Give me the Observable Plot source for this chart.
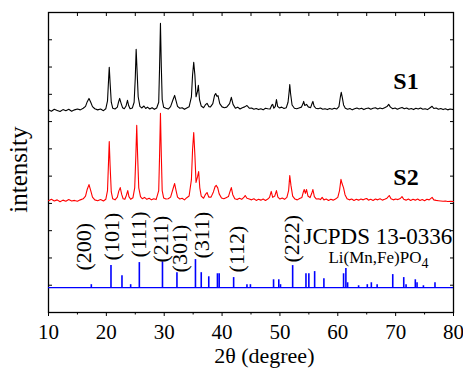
<!DOCTYPE html>
<html>
<head>
<meta charset="utf-8">
<script src="https://cdn.jsdelivr.net/npm/d3@7"></script>
<script src="https://cdn.jsdelivr.net/npm/@observablehq/plot@0.6"></script>
<style>
  html, body { margin: 0; padding: 0; background: #fff; overflow: hidden; }
  #chart svg { display: block; }
</style>
</head>
<body>
<div id="chart"></div>
<script>
// ---- data (2θ in degrees, intensity height above each trace's baseline, arbitrary units) ----
const s1Trace = [
  [10.0,0.2],[10.5,-0.3],[11.0,0.4],[11.5,0],[12.0,-0.4],[12.5,0.3],[13.0,-0.1],[13.5,0.4],[14.0,-0.3],[14.5,0.2],[15.0,0.5],[15.5,0.2],[16.0,0.8],
  [16.4,1.5],[16.7,3.2],[17.0,4.4],[17.3,3.0],[17.6,1.4],[18.0,0.6],[18.5,0.2],[19.0,0.5],[19.5,-0.1],[19.9,0.6],
  [20.2,3.5],[20.4,12],[20.5,15.8],[20.65,10],[20.85,3],[21.1,0.8],[21.5,0.5],[21.9,1.2],
  [22.1,3],[22.3,4.4],[22.55,2.6],[22.8,1.0],[23.1,0.6],[23.4,1.6],[23.65,3.7],[23.85,1.8],[24.1,0.6],[24.5,0.9],
  [24.8,3],[25.0,12],[25.15,22.4],[25.3,15],[25.5,5],[25.8,1.5],[26.1,0.9],[26.5,1.6],[26.8,0.7],[27.1,1.2],[27.5,0.5],[27.9,1.0],[28.3,0.4],[28.7,0.9],
  [29.05,3],[29.2,16],[29.35,31.9],[29.5,16],[29.65,4],[29.9,1.2],[30.3,0.8],[30.7,0.5],[31.1,1.4],[31.5,3.8],[31.8,5.5],[32.05,3.5],[32.3,1.5],[32.7,0.8],[33.1,1.0],[33.5,0.4],[33.9,0.9],[34.3,1.3],
  [34.7,5],[34.9,13],[35.1,17.6],[35.3,13],[35.5,5],[35.75,7],[35.9,9.2],[36.1,4],[36.4,1.6],[36.8,1.0],[37.1,2.0],[37.4,2.6],[37.7,1.4],[38.0,1.3],[38.4,2.5],[38.7,5.5],[38.9,6.2],[39.1,5.2],[39.3,5.4],[39.6,2.5],[40.0,1.3],[40.4,1.0],[40.8,1.2],
  [41.3,2.5],[41.6,4.8],[41.9,2.2],[42.3,0.8],[42.7,1.2],[43.1,0.5],[43.5,1.0],[43.9,1.3],[44.3,1.8],[44.7,0.8],[45.1,0.9],[45.5,0.4],[45.9,0.7],[46.3,0.3],[46.7,0.6],[47.1,0.2],[47.5,0.8],[47.9,0.6],[48.3,0.5],
  [48.6,2.0],[48.75,2.2],[48.95,0.8],[49.2,1.5],[49.4,4.0],[49.6,1.5],[49.9,0.9],[50.3,1.2],[50.7,0.7],[51.1,1.0],[51.4,3],
  [51.6,7],[51.7,9.5],[51.85,6],[52.1,2],[52.5,0.8],[52.9,0.6],[53.3,0.9],[53.7,1.2],[54.0,2.5],[54.1,3.3],[54.3,1.8],[54.6,2.2],[54.9,1.3],[55.3,1.0],[55.6,2.8],[55.7,3.3],[55.9,1.6],[56.2,0.8],[56.6,0.6],[57.0,0.9],[57.4,0.4],[57.8,0.6],[58.2,0.3],[58.6,0.7],[59.0,0.4],[59.4,0.8],[59.8,0.5],[60.2,1.4],
  [60.45,5],[60.6,6.6],[60.8,4.5],[61.0,2.0],[61.3,0.8],[61.7,0.4],[62.1,0.7],[62.5,0.2],[62.9,0.6],[63.3,0.9],[63.7,0.5],[64.1,0.8],[64.5,0.3],[64.9,0.7],[65.3,0.9],[65.7,0.4],[66.1,0.8],[66.5,1.0],[66.9,0.5],[67.3,0.9],[67.7,0.6],[68.1,1.0],[68.5,1.4],[68.8,2.2],[69.1,1.2],[69.5,0.6],[69.9,0.9],[70.3,0.4],[70.7,0.8],[71.1,1.1],[71.5,0.6],[71.9,0.9],[72.3,0.4],[72.7,0.7],[73.1,0.3],[73.5,0.8],[73.9,0.5],[74.3,0.9],[74.7,0.4],[75.1,0.6],[75.5,0.3],[75.9,0.9],[76.3,1.5],[76.6,0.7],[77.0,0.9],[77.4,0.4],[77.8,0.7],[78.2,0.3],[78.6,0.6],[79.0,0.2],[79.4,0.5],[80.0,0.3]
];

const s2Trace = [
  [10.0,0.3],[10.5,0.8],[11.0,0.2],[11.5,0.6],[12.0,-0.1],[12.5,0.5],[13.0,0.1],[13.5,0.7],[14.0,0.2],[14.5,0.4],[15.0,0.1],[15.5,0.6],[16.0,1.0],
  [16.4,2.0],[16.7,4.5],[17.0,6.2],[17.3,4.0],[17.6,1.6],[18.0,0.6],[18.5,0.3],[19.0,0.7],[19.5,0.2],[19.9,0.8],
  [20.2,4],[20.4,16],[20.5,22],[20.65,13],[20.85,3.5],[21.1,1.0],[21.5,0.6],[21.9,1.6],[22.15,3.8],[22.4,5.1],[22.65,2.6],[22.9,1.0],[23.2,0.8],[23.45,2.2],[23.7,4.0],[23.9,1.8],[24.2,0.8],[24.6,1.4],
  [24.9,5],[25.1,17],[25.25,27.9],[25.4,17],[25.6,5],[25.9,1.8],[26.2,1.0],[26.6,1.5],[27.0,0.8],[27.4,1.2],[27.8,0.6],[28.2,1.0],[28.6,0.7],
  [29.05,4],[29.2,17],[29.35,32.3],[29.5,17],[29.65,4],[29.9,1.3],[30.3,0.9],[30.7,1.0],[31.1,1.6],[31.5,4.5],[31.8,6.6],[32.05,4.0],[32.3,1.6],[32.7,0.9],[33.1,1.2],[33.5,0.6],[33.9,1.4],[34.3,2.0],
  [34.7,8],[34.9,19],[35.1,25.3],[35.3,17],[35.5,7],[35.75,9],[35.95,11],[36.15,5],[36.4,2.0],[36.8,1.2],[37.1,2.5],[37.4,3.3],[37.7,1.6],[38.1,1.6],[38.5,3.5],[38.8,5.5],[39.0,5.9],[39.25,5.0],[39.5,2.8],[39.9,1.3],[40.3,1.0],[40.7,1.4],[41.1,1.8],
  [41.35,3.5],[41.6,5.1],[41.85,2.5],[42.2,1.0],[42.6,0.7],[43.0,1.2],[43.4,0.8],[43.8,1.6],[44.0,2.2],[44.3,1.2],[44.7,0.9],[45.1,0.6],[45.5,1.0],[45.9,0.4],[46.3,0.8],[46.7,0.5],[47.1,0.9],[47.5,0.4],[47.9,0.9],[48.2,1.5],
  [48.5,3.7],[48.75,1.5],[49.1,2.0],[49.4,4.0],[49.65,1.6],[50.0,0.9],[50.4,1.3],[50.8,0.8],[51.2,1.5],[51.5,4],
  [51.7,9.5],[51.9,6],[52.2,2],[52.6,0.9],[53.0,0.6],[53.4,1.1],[53.8,1.5],[54.05,3.5],[54.2,4.4],[54.4,3.0],[54.6,4.4],[54.85,2.0],[55.2,1.4],[55.5,3.0],[55.7,4.4],[55.95,1.8],[56.3,0.9],[56.7,1.0],[57.0,0.7],[57.3,1.5],[57.6,0.6],[58.0,0.9],[58.4,0.4],[58.8,0.8],[59.2,0.5],[59.6,0.9],[60.0,1.5],[60.3,4],
  [60.55,8.1],[60.75,6.5],[61.0,5.0],[61.25,2.5],[61.6,1.0],[62.0,0.6],[62.4,0.9],[62.8,0.4],[63.2,0.8],[63.6,0.5],[64.0,0.9],[64.4,0.6],[64.8,1.0],[65.0,1.1],[65.3,0.5],[65.7,0.8],[66.1,0.4],[66.5,0.9],[66.9,0.6],[67.3,1.0],[67.7,0.5],[68.1,0.8],[68.5,1.2],[68.9,2.2],[69.2,1.0],[69.6,0.6],[70.0,0.9],[70.4,0.7],[70.8,1.1],[71.1,1.8],[71.4,0.8],[71.8,0.5],[72.2,0.9],[72.6,0.4],[73.0,0.8],[73.4,0.5],[73.8,0.9],[74.2,0.4],[74.6,0.7],[75.0,0.3],[75.4,0.8],[75.8,0.6],[76.3,1.5],[76.6,0.6],[77.0,0.4],[77.4,0.3],[77.8,0.2],[78.2,0.1],[78.6,0.2],[79.0,0],[79.5,0.1],[80.0,0]
];

// JCPDS 13-0336 reference sticks: [2θ, relative height]
const refSticks = [
  [17.4,1.1],[20.8,8.1],[22.7,4.4],[24.2,1.1],[25.7,9.2],[29.7,9.5],[32.2,5.5],[35.4,10.3],[36.4,5.5],[37.7,4.0],
  [39.2,5.1],[39.5,5.1],[42.0,3.7],[44.3,1.1],[44.9,1.1],[48.9,2.9],[49.8,2.9],[50.1,1.1],[52.2,8.1],[54.5,5.1],
  [55.0,5.1],[56.0,5.9],[57.6,3.3],[61.0,5.1],[61.4,7.0],[61.7,1.8],[63.6,0.7],[65.1,1.1],[65.8,1.8],[66.8,1.1],
  [69.5,4.8],[71.4,3.7],[71.8,1.1],[73.4,2.9],[73.7,1.8],[74.8,0.7],[76.8,1.8]
];

// baselines of the stacked traces (y-axis units)
const s1Offset = 74.1;
const s2Offset = 40.7;
const refOffset = 9.1;

// Miller index labels
const hklLabels = ["(200)","(101)","(111)","(211)","(301)","(311)","(112)","(222)"];
const hklTheta  = [16.05, 21.05, 25.55, 29.5, 32.8, 36.45, 42.65, 52.0];
const hklStart  = [15.4, 19.1, 20.2, 18.3, 14.7, 19.8, 14.7, 18.3];

const xMajorTicks = [10,20,30,40,50,60,70,80];
const xMinorTicks = [15,25,35,45,55,65,75];
const xTopTicks = [10,15,20,25,30,35,40,45,50,55,60,65,70,75,80];
const yTicks = [10,20,30,40,50,60,70,80,90,100];

const sampleLabels = [{t:"S1", x:69.6, y:84.6}, {t:"S2", x:69.6, y:49.4}];

const serif = "Liberation Serif";

const hklData = hklLabels.map((t, i) => ({t, x: hklTheta[i], y: hklStart[i]}));

const chart = Plot.plot({
  width: 463,
  height: 371,
  marginLeft: 48,
  marginRight: 10,
  marginTop: 12,
  marginBottom: 59,
  style: {fontFamily: serif, fontSize: "21px", color: "black", background: "white"},
  x: {domain: [10, 80]},
  y: {domain: [0, 110]},
  marks: [
    Plot.frame({stroke: "black", strokeWidth: 1.3}),
    Plot.axisX({anchor: "bottom", ticks: xMajorTicks, tickSize: 4, tickPadding: 8, tickFormat: d => String(d), label: null}),
    Plot.axisX({anchor: "bottom", ticks: xMinorTicks, tickSize: 2.5, tickFormat: () => "", label: null}),
    Plot.axisX({anchor: "top", ticks: xTopTicks, tickSize: -3, tickFormat: () => "", label: null}),
    Plot.axisY({anchor: "left", ticks: yTicks, tickSize: -4, tickFormat: () => "", label: null}),
    Plot.axisY({anchor: "right", ticks: yTicks, tickSize: -4, tickFormat: () => "", label: null}),
    Plot.ruleY([refOffset], {stroke: "#0000ff", strokeWidth: 1.2}),
    Plot.ruleX(refSticks, {x: d => d[0], y1: refOffset, y2: d => refOffset + d[1], stroke: "#0000ff", strokeWidth: 1.6}),
    Plot.line(s2Trace, {x: d => d[0], y: d => s2Offset + d[1], stroke: "#ff0000", strokeWidth: 1.1}),
    Plot.line(s1Trace, {x: d => d[0], y: d => s1Offset + d[1], stroke: "black", strokeWidth: 1.1}),
    Plot.text(hklData, {x: "x", y: "y", text: "t", rotate: -90, textAnchor: "start", lineAnchor: "middle", fontSize: 22, fontFamily: serif, fill: "black"}),
    Plot.text(["JCPDS 13-0336"], {x: 54.07, y: 28.0, text: d => d, textAnchor: "start", lineAnchor: "middle", fontSize: 23, fontFamily: serif, fill: "black"}),
    Plot.text(["Li(Mn,Fe)PO4"], {x: 58.39, y: 20.3, text: d => d, textAnchor: "start", lineAnchor: "middle", fontSize: 17, fontFamily: serif, fill: "black"}),
    Plot.text(sampleLabels, {x: "x", y: "y", text: "t", textAnchor: "start", lineAnchor: "middle", fontSize: 24, fontWeight: "bold", fontFamily: serif, fill: "black"}),
    Plot.text(["intensity"], {frameAnchor: "left", y: 52.4, text: d => d, rotate: -90, dx: -30, textAnchor: "middle", lineAnchor: "middle", fontSize: 25, fontFamily: serif, fill: "black"}),
    Plot.text(["2θ (degree)"], {frameAnchor: "bottom", x: 47.3, text: d => d, dy: 50, textAnchor: "middle", lineAnchor: "bottom", fontSize: 22, fontFamily: serif, fill: "black"})
  ]
});

// subscript for the formula
chart.querySelectorAll("text").forEach(el => {
  if (el.textContent === "Li(Mn,Fe)PO4") {
    el.textContent = "Li(Mn,Fe)PO";
    const ts = document.createElementNS("http://www.w3.org/2000/svg", "tspan");
    ts.setAttribute("font-size", "14");
    ts.setAttribute("dy", "5");
    ts.textContent = "4";
    el.appendChild(ts);
  }
});

document.getElementById("chart").appendChild(chart);
</script>
</body>
</html>
